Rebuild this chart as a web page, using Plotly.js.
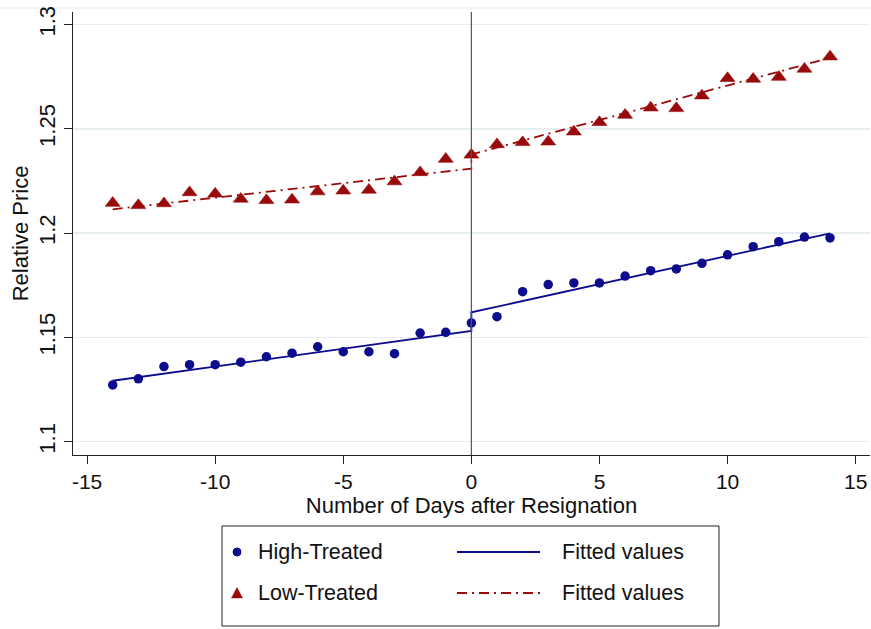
<!DOCTYPE html>
<html>
<head>
<meta charset="utf-8">
<script src="https://cdn.plot.ly/plotly-3.0.1.min.js"></script>
<style>
  html, body { margin: 0; padding: 0; background: #ffffff; }
  #chart { width: 871px; height: 629px; }
</style>
</head>
<body>
<div id="chart"></div>
<script>
// ---- data ----
const days = [-14,-13,-12,-11,-10,-9,-8,-7,-6,-5,-4,-3,-2,-1,0,1,2,3,4,5,6,7,8,9,10,11,12,13,14];
const highTreated = [1.1272,1.1301,1.1360,1.1369,1.1369,1.1381,1.1407,1.1424,1.1455,1.1431,1.1431,1.1422,1.1521,1.1524,1.1569,
                     1.1599,1.1719,1.1753,1.1761,1.1761,1.1794,1.1820,1.1828,1.1855,1.1896,1.1935,1.1959,1.1981,1.1977];
const lowTreated  = [1.2144,1.2133,1.2142,1.2195,1.2188,1.2164,1.2157,1.2160,1.2199,1.2203,1.2207,1.2247,1.2291,1.2355,1.2375,
                     1.2425,1.2435,1.2438,1.2486,1.2531,1.2566,1.2601,1.2598,1.2659,1.2742,1.2739,1.2748,1.2787,1.2846];
// fitted values (pre and post segments, joined at day 0)
const fitX        = [-14, 0, 0, 14];
const highFitted  = [1.1292, 1.1531, 1.1620, 1.1999];
const lowFitted   = [1.2114, 1.2309, 1.2377, 1.2840];
const xTickVals   = [-15, -10, -5, 0, 5, 10, 15];
const xTickText   = ["-15", "-10", "-5", "0", "5", "10", "15"];
const yTickVals   = [1.1, 1.15, 1.2, 1.25, 1.3];
const yTickText   = ["1.1", "1.15", "1.2", "1.25", "1.3"];
const legendNames = ["High-Treated", "Fitted values", "Low-Treated", "Fitted values"];

// ---- styles ----
const W = 871, H = 629, L = 73, R = 1, T = 12, B = 174;
const plotW = W - L - R, plotH = H - T - B;
const BLUE = "#0c0c8c", RED = "#990b0b";
const FONT = "Arial, 'Liberation Sans', sans-serif";
const px = x => (x - L) / plotW;          // pixel x -> paper x
const py = y => (H - B - y) / plotH;      // pixel y -> paper y
const RED_DASH = "10px,5px,2px,5px";

const traces = [
  { x: days, y: highTreated, type: "scatter", mode: "markers", name: legendNames[0], showlegend: false,
    marker: { symbol: "circle", size: 9.5, color: BLUE } },
  { x: fitX, y: highFitted, type: "scatter", mode: "lines", name: legendNames[1], showlegend: false,
    line: { color: BLUE, width: 1.8 } },
  { x: days, y: lowTreated, type: "scatter", mode: "markers", name: legendNames[2], showlegend: false,
    marker: { symbol: "triangle-up", size: 13, color: RED, line: { color: RED, width: 0.6 } } },
  { x: fitX, y: lowFitted, type: "scatter", mode: "lines", name: legendNames[3], showlegend: false,
    line: { color: RED, width: 1.8, dash: RED_DASH } }
];

// manual legend box (Stata style)
const row1 = 552, row2 = 593, mx = 237;
const shapes = [
  { type: "line", xref: "paper", yref: "paper", x0: px(0), x1: px(W), y0: py(8), y1: py(8),
    line: { color: "#e4e9ea", width: 1.2 }, layer: "below" },
  { type: "line", xref: "x", yref: "paper", x0: 0, x1: 0, y0: 0, y1: 1,
    line: { color: "#555555", width: 1.2 } },
  { type: "rect", xref: "paper", yref: "paper", x0: px(222), x1: px(719), y0: py(626), y1: py(526),
    line: { color: "#222222", width: 1 }, fillcolor: "rgba(0,0,0,0)" },
  { type: "circle", xref: "paper", yref: "paper", x0: px(mx - 4), x1: px(mx + 4), y0: py(row1 + 4), y1: py(row1 - 4),
    line: { color: BLUE, width: 1 }, fillcolor: BLUE },
  { type: "path", xref: "paper", yref: "paper",
    path: "M " + px(mx - 5.5) + "," + py(row2 + 5) + " L " + px(mx + 5.5) + "," + py(row2 + 5) +
          " L " + px(mx) + "," + py(row2 - 5.5) + " Z",
    line: { color: RED, width: 0.5 }, fillcolor: RED },
  { type: "line", xref: "paper", yref: "paper", x0: px(457), x1: px(540), y0: py(row1), y1: py(row1),
    line: { color: BLUE, width: 1.8 } },
  { type: "line", xref: "paper", yref: "paper", x0: px(457), x1: px(540), y0: py(row2), y1: py(row2),
    line: { color: RED, width: 1.8, dash: RED_DASH } }
];

const legendText = (txt, x, y) => ({
  text: txt, xref: "paper", yref: "paper", x: px(x), y: py(y), xanchor: "left", yanchor: "middle",
  showarrow: false, font: { family: FONT, size: 21.5, color: "#111111" }
});
const annotations = [
  legendText(legendNames[0], 256, row1),
  legendText(legendNames[1], 560, row1),
  legendText(legendNames[2], 256, row2),
  legendText(legendNames[3], 560, row2)
];

const layout = {
  width: W, height: H,
  margin: { l: L, r: R, t: T, b: B, pad: 0 },
  paper_bgcolor: "#ffffff", plot_bgcolor: "#ffffff",
  font: { family: FONT, size: 20, color: "#111111" },
  showlegend: false,
  xaxis: {
    range: [-15.55, 15.56], tickvals: xTickVals, ticktext: xTickText,
    showgrid: false, zeroline: false, showline: true, linecolor: "#222222", linewidth: 1,
    ticks: "outside", ticklen: 8, tickwidth: 1, tickcolor: "#222222",
    tickfont: { family: FONT, size: 21, color: "#111111" },
    title: { text: "Number of Days after Resignation", font: { family: FONT, size: 22, color: "#111111" }, standoff: 0 }
  },
  yaxis: {
    range: [1.0936, 1.3060], tickvals: yTickVals, ticktext: yTickText, tickangle: -90,
    showgrid: true, gridcolor: "#e6eef0", gridwidth: 1.5, zeroline: false,
    showline: true, linecolor: "#222222", linewidth: 1,
    ticks: "outside", ticklen: 8, tickwidth: 1, tickcolor: "#222222",
    tickfont: { family: FONT, size: 22, color: "#111111" },
    title: { text: "Relative Price", font: { family: FONT, size: 22, color: "#111111" }, standoff: 0 }
  },
  shapes: shapes,
  annotations: annotations
};

Plotly.newPlot("chart", traces, layout, { displayModeBar: false, staticPlot: true });
</script>
</body>
</html>
